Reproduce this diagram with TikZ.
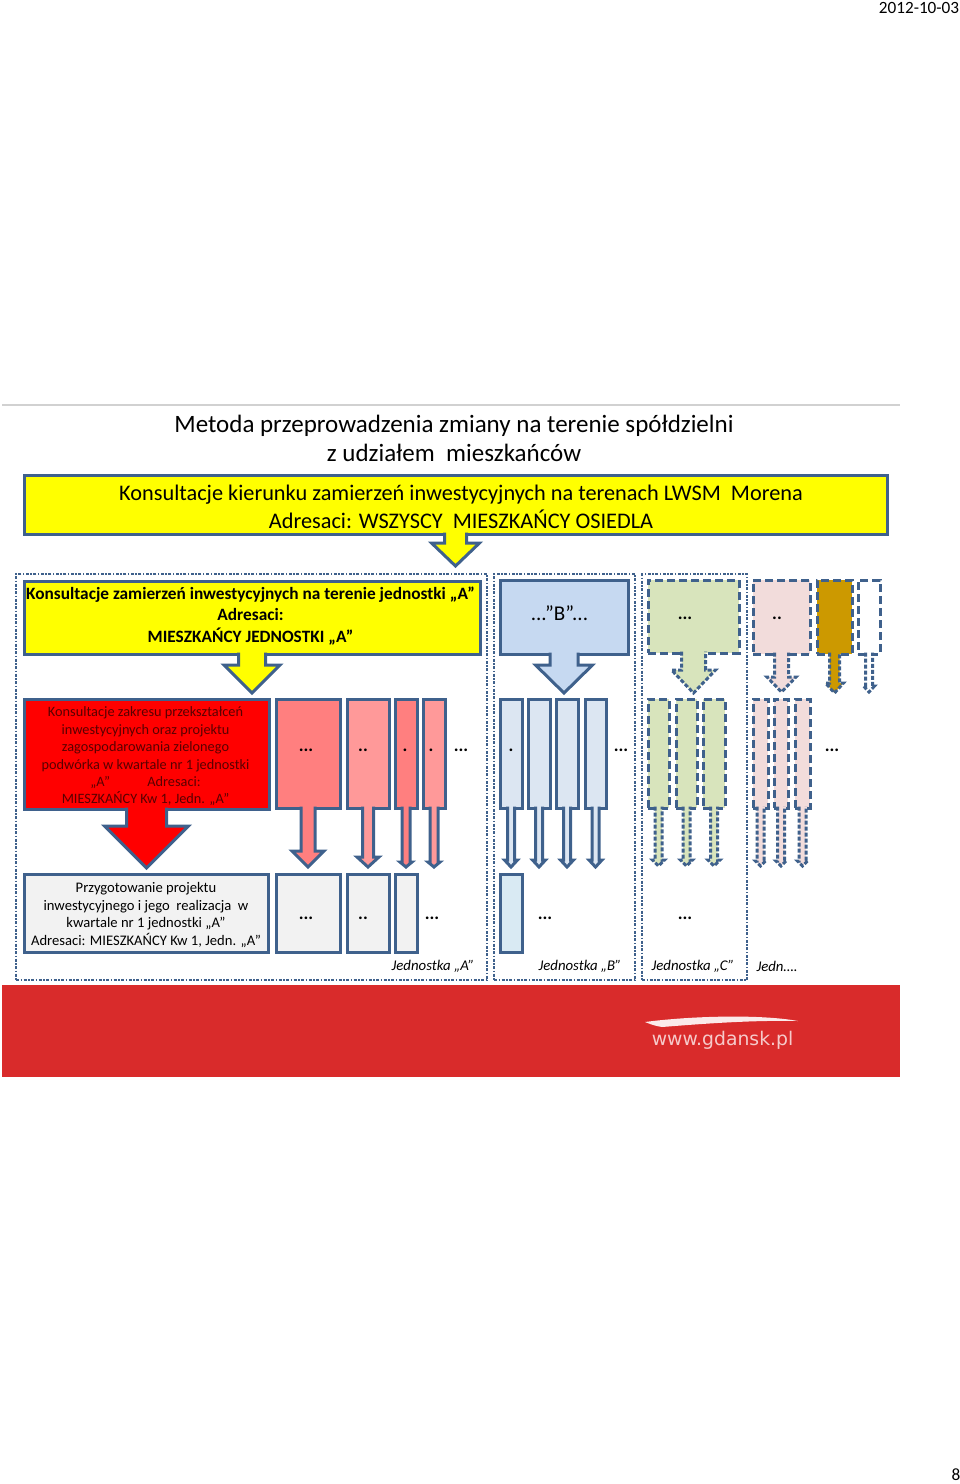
\documentclass[tikz,border=0pt]{standalone}
\usepackage{fontspec}
\setmainfont{Carlito}
\newfontfamily\logofont{DejaVu Sans}
\usetikzlibrary{calc}
\definecolor{edgeblue}{HTML}{3F618C}
\definecolor{bannerred}{HTML}{D92B2B}
\definecolor{plainyellow}{HTML}{FFFF00}
\definecolor{pinkA}{HTML}{FF7F7F}
\definecolor{pinkB}{HTML}{FF9999}
\definecolor{greyfill}{HTML}{F2F2F2}
\definecolor{blueB}{HTML}{C6D9F1}
\definecolor{blueC}{HTML}{DCE6F2}
\definecolor{blueD}{HTML}{D9EAF3}
\definecolor{greenC}{HTML}{D8E4BC}
\definecolor{rosey}{HTML}{F2DCDB}
\definecolor{goldy}{HTML}{CC9900}
\tikzset{
  box/.style={draw=edgeblue,line width=3,inner sep=0,outer sep=0,anchor=north west},
  dbox/.style={box,dash pattern=on 8pt off 4pt},
  arr/.style={draw=edgeblue,line width=3,line join=miter},
  darr/.style={arr,dash pattern=on 4pt off 2pt},
  frame/.style={draw=edgeblue,line width=2.8,dash pattern=on 3pt off 1.5pt on 1.5pt off 1.5pt},
  dots/.style={font=\fontsize{18}{20}\selectfont\bfseries,inner sep=0},
  unit/.style={font=\fontsize{14.8}{17}\selectfont\itshape,inner sep=0},
}
\newcommand{\dotsthree}{...}
\newcommand{\dotstwo}{..}
\newcommand{\dotsone}{.}
\newcommand{\blockarr}[6][arr]{%
  \path[#1] ($(#2.south)+(-#3,-1.5)$) -- ($(#2.south |- 0,#5)+(-#3,0)$) -- ($(#2.south |- 0,#5)+(-#4,0)$)
    -- (#2.south |- 0,#6) -- ($(#2.south |- 0,#5)+(#4,0)$) -- ($(#2.south |- 0,#5)+(#3,0)$) -- ($(#2.south)+(#3,-1.5)$);}
\begin{document}
\begin{tikzpicture}[x=1pt,y=-1pt]
\useasboundingbox (0,0) rectangle (960,1484);

\node[inner sep=0,font=\fontsize{17.2}{20}\selectfont] (date) at (919,8) {2012-10-03};
\node[inner sep=0,font=\fontsize{17.2}{20}\selectfont] (page) at (956,1475) {8};
\draw[black!18,line width=1.5] (2,405) -- (900,405);

\node[inner sep=0,align=center,font=\fontsize{25}{29.5}\selectfont] (title) at (454,438.5) {Metoda przeprowadzenia zmiany na terenie spółdzielni\\z udziałem\ \ mieszkańców};

\node[frame,rectangle,inner sep=0,outer sep=0,anchor=north west,minimum width=471,minimum height=406] (frameA) at (16,574) {};
\node[frame,rectangle,inner sep=0,outer sep=0,anchor=north west,minimum width=141,minimum height=406] (frameB) at (494,574) {};
\node[frame,rectangle,inner sep=0,outer sep=0,anchor=north west,minimum width=105,minimum height=406] (frameC) at (642,574) {};

\node[box,fill=plainyellow,minimum width=863,minimum height=59] (banner) at (24,475) {};
\node[inner sep=0,align=center,font=\fontsize{22.3}{28}\selectfont] (bannertext) at (461,507) {Konsultacje kierunku zamierzeń inwestycyjnych na terenach LWSM\ \ Morena\\Adresaci: WSZYSCY\ \ MIESZKAŃCY OSIEDLA};
\blockarr[arr,fill=plainyellow]{banner}{11}{24}{543}{566}

\node[box,fill=plainyellow,minimum width=456,minimum height=73] (yellowA) at (24,581) {};
\node[inner sep=0,align=center,font=\fontsize{17.3}{21.5}\selectfont\bfseries] (yellowtext) at (250.5,616) {Konsultacje zamierzeń inwestycyjnych na terenie jednostki „A”\\Adresaci:\\MIESZKAŃCY JEDNOSTKI „A”};
\blockarr[arr,fill=plainyellow]{yellowA}{13.5}{28}{665}{693}

\node[box,fill=blueB,minimum width=128,minimum height=74] (boxB) at (500,580) {};
\blockarr[arr,fill=blueB]{boxB}{14}{28.5}{665}{693}
\node[dbox,fill=greenC,minimum width=91,minimum height=73] (boxC) at (648,580) {};
\blockarr[darr,fill=greenC]{boxC}{12}{22}{670}{693}
\node[dbox,fill=rosey,minimum width=57,minimum height=74] (boxD) at (753,580) {};
\blockarr[darr,fill=rosey]{boxD}{7}{14.5}{677}{692}
\node[dbox,fill=goldy,minimum width=35,minimum height=74] (boxE) at (817,580) {};
\blockarr[darr,fill=goldy]{boxE}{5}{9}{683}{693}
\node[dbox,fill=white,minimum width=22,minimum height=74] (boxF) at (858,580) {};
\blockarr[darr,fill=white]{boxF}{3.5}{5.5}{686}{692}

\node[box,fill=red,minimum width=245,minimum height=110] (redA) at (24,699) {};
\node[inner sep=0,align=center,text=red!35!black,font=\fontsize{14.3}{17.4}\selectfont] (redtext) at (145.5,756.5) {Konsultacje zakresu przekształceń\\inwestycyjnych oraz projektu\\zagospodarowania zielonego\\podwórka w kwartale nr 1 jednostki\\„A”\hspace{2.6em}Adresaci:\\MIESZKAŃCY Kw 1, Jedn. „A”};
\blockarr[arr,fill=red]{redA}{20}{42}{826}{868}

\foreach \name/\x/\w/\col/\s/\h/\top in {pa/276/64/pinkA/7/16/851, pb/347/42/pinkB/5.5/11/857, pc/395/22/pinkA/4/6/862, pd/423/22/pinkB/4/6/862}{
  \node[box,fill=\col,minimum width=\w,minimum height=109] (\name) at (\x,699) {};
  \blockarr[arr,fill=\col]{\name}{\s}{\h}{\top}{867}
}
\foreach \name/\x/\w in {ba/500/22, bb/528/22, bc/556/22, bd/585/21}{
  \node[box,fill=blueC,minimum width=\w,minimum height=109] (\name) at (\x,699) {};
  \blockarr[arr,fill=blueC]{\name}{3.5}{6.5}{860}{867}
}
\foreach \name/\x/\w in {ca/648/21, cb/676/21, cc/703/22}{
  \node[dbox,fill=greenC,minimum width=\w,minimum height=109] (\name) at (\x,699) {};
  \blockarr[darr,fill=greenC]{\name}{3.5}{6}{860}{866}
}
\foreach \name/\x/\w in {da/753/15, db/774/14, dc/795/15}{
  \node[dbox,fill=rosey,minimum width=\w,minimum height=109] (\name) at (\x,699) {};
  \blockarr[darr,fill=rosey]{\name}{3.5}{5}{861}{866}
}

\node[box,fill=greyfill,minimum width=244,minimum height=78] (greyA) at (24,874.5) {};
\node[inner sep=0,align=center,font=\fontsize{14.6}{17.4}\selectfont] (greytext) at (146,915) {Przygotowanie projektu\\inwestycyjnego i jego\ \ realizacja\ \ w\\kwartale nr 1 jednostki „A”\\Adresaci: MIESZKAŃCY Kw 1, Jedn. „A”};
\foreach \name/\x/\w in {ga/276/64, gb/347/42, gc/395/22}{
  \node[box,fill=greyfill,minimum width=\w,minimum height=78] (\name) at (\x,874.5) {};
}
\node[box,fill=blueD,minimum width=22,minimum height=78] (gd) at (500,874.5) {};

\node[inner sep=0,font=\fontsize{21}{24}\selectfont] (labelB) at (559.5,613) {...”B”...};
\foreach \i/\x/\y/\t in {1/685/618/\dotsthree, 2/777/618/\dotstwo, 3/306/750/\dotsthree, 4/363/750/\dotstwo, 5/405/750/\dotsone, 6/431/750/\dotsone, 7/461/750/\dotsthree, 8/511/750/\dotsone, 9/621/750/\dotsthree, 10/832/750/\dotsthree, 11/306/918/\dotsthree, 12/363/918/\dotstwo, 13/432/918/\dotsthree, 14/545/918/\dotsthree, 15/685/918/\dotsthree}{
  \node[dots] (dots\i) at (\x,\y) {\t};
}

\node[unit] (unitA) at (433,966) {Jednostka „A”};
\node[unit] (unitB) at (580,966) {Jednostka „B”};
\node[unit] (unitC) at (693,966) {Jednostka „C”};
\node[unit] (unitD) at (777,966) {Jedn….};

\fill[bannerred] (2,985) rectangle (900,1077);
\fill[white!90!bannerred] (645,1022) .. controls (690,1016) and (760,1014) .. (798,1021) .. controls (750,1020) and (700,1024) .. (662,1027) .. controls (655,1026) and (650,1024) .. (645,1022);
\node[inner sep=0,text=white!75!bannerred,font=\fontsize{18.8}{24}\selectfont\logofont] (logo) at (722.5,1040) {www.gdansk.pl};
\end{tikzpicture}
\end{document}
